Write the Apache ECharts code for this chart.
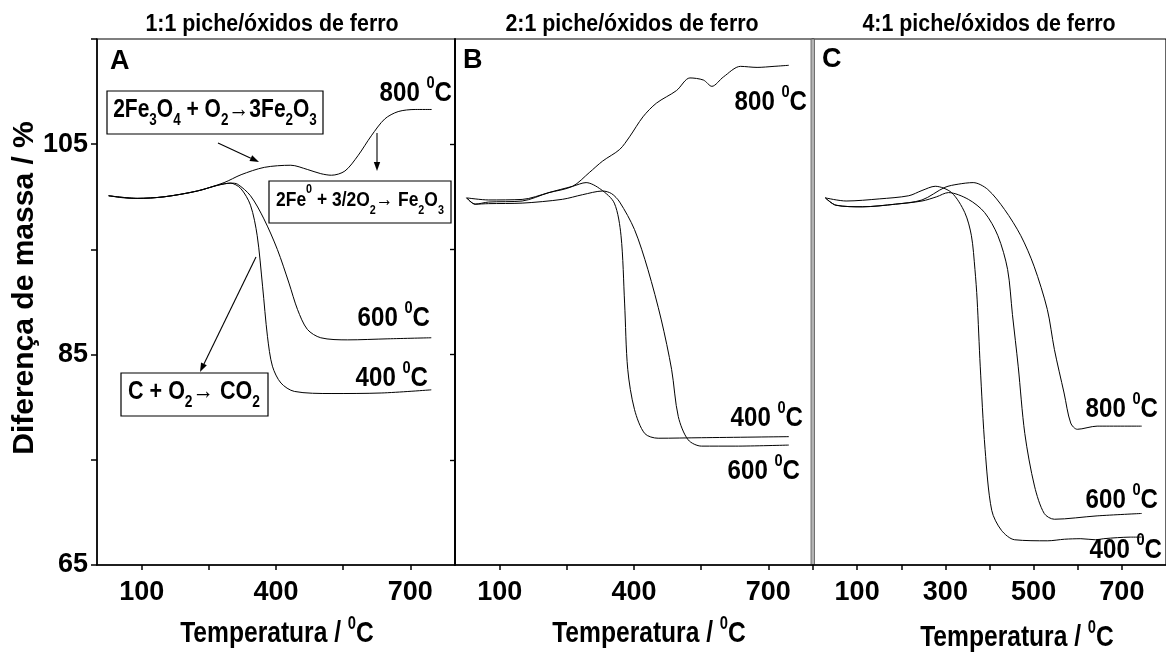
<!DOCTYPE html>
<html>
<head>
<meta charset="utf-8">
<script src="https://cdn.jsdelivr.net/npm/echarts@6/dist/echarts.min.js"></script>
<style>html,body{margin:0;padding:0;background:#fff}#c{width:1166px;height:653px}</style>
</head>
<body>
<div id="c"></div>
<script>
// ---------- data (temperature °C, mass %) ----------
const a800 = [[26,100.1],[60,99.9],[90,99.85],[150,100.0],[224,100.55],[284,101.35],[322,102.1],[374,102.8],[433,103.0],[470,102.6],[500,102.2],[524,102.05],[554,102.45],[583,103.9],[613,105.8],[643,107.4],[673,108.1],[711,108.3],[748,108.3]];
const a600 = [[26,100.1],[90,99.85],[150,100.0],[224,100.55],[270,101.1],[300,101.3],[314,101.2],[343,100.1],[373,97.9],[403,95.0],[429,91.8],[448,89.3],[470,87.4],[500,86.6],[560,86.4],[650,86.5],[747,86.6]];
const a400 = [[26,100.1],[90,99.85],[150,100.0],[224,100.55],[270,101.1],[298,101.3],[321,100.8],[343,99.2],[358,96.3],[370,91.5],[381,86.7],[392,83.9],[411,82.3],[441,81.5],[523,81.3],[635,81.35],[747,81.65]];

const b800 = [[26,99.9],[75,99.7],[150,99.75],[210,100.4],[263,101.0],[300,102.3],[330,103.4],[368,104.5],[390,105.7],[420,107.6],[450,108.9],[495,110.1],[525,111.3],[555,111.1],[574,110.5],[600,111.4],[638,112.4],[675,112.3],[713,112.4],[746,112.5]];
const b400 = [[26,99.9],[45,99.3],[75,99.5],[150,99.6],[210,100.4],[263,101.0],[293,101.35],[326,100.7],[356,99.4],[371,96.3],[379,89.9],[386,83.6],[401,79.8],[424,77.5],[454,77.05],[551,77.1],[746,77.2]];
const b600 = [[26,99.9],[45,99.3],[75,99.35],[150,99.4],[240,99.76],[285,100.2],[330,100.55],[350,100.3],[368,99.5],[401,96.9],[431,93.1],[461,88.3],[484,83.6],[499,79.1],[521,76.9],[551,76.3],[626,76.3],[746,76.4]];

const c400 = [[28,99.9],[75,99.6],[150,99.8],[217,100.1],[247,100.6],[277,101.0],[314,100.4],[344,98.5],[359,96.3],[367,93.1],[372,90.2],[379,83.9],[390,76.0],[405,70.2],[427,68.3],[457,67.4],[532,67.3],[570,67.45],[607,67.5],[640,67.4],[659,67.5],[690,67.6],[719,67.65],[745,67.65]];
const c600 = [[28,99.9],[52,99.2],[112,99.05],[187,99.3],[247,99.6],[280,100.0],[307,100.4],[352,99.76],[389,98.5],[419,96.3],[441,93.1],[452,88.8],[465,83.9],[480,77.5],[502,72.5],[524,69.9],[547,69.35],[644,69.67],[745,69.9]];
const c800 = [[28,99.9],[52,99.2],[112,99.05],[187,99.3],[247,99.7],[299,100.9],[329,101.2],[363,101.35],[396,100.7],[434,98.8],[471,96.3],[501,93.4],[531,89.3],[547,85.5],[569,81.35],[584,78.5],[599,77.9],[644,78.2],[745,78.2]];

// ---------- tick values / labels ----------
const xTicksAB = [100,250,400,550,700];
const xLabelsAB = [100,400,700];
const xTicksC = [0,100,200,300,400,500,600,700];
const xLabelsC = [100,300,500,700];
const yTicks = [65,75,85,95,105,115];
const yLabels = [65,85,105];
const yTicksRight = [75,85,95,105];
const panelTitles = ['1:1 piche/óxidos de ferro','2:1 piche/óxidos de ferro','4:1 piche/óxidos de ferro'];
const panelLetters = ['A','B','C'];

const FF = '"Liberation Sans", Arial, sans-serif';

const chart = echarts.init(document.getElementById('c'), null, {renderer:'canvas'});

const grids = [
  {left:97, top:39, width:358, height:526},
  {left:455, top:39, width:358, height:526},
  {left:813, top:39, width:357, height:526}
].map(g => Object.assign(g, {show:true, borderColor:'#000', borderWidth:1.2, backgroundColor:'transparent'}));

function xAx(gi, ticks, labels){
  return {gridIndex:gi, type:'value', min:0, max:800,
    axisLine:{show:true, onZero:false, lineStyle:{color:'#000', width:1.6}},
    axisTick:{show:true, customValues:ticks, length:5, lineStyle:{color:'#000', width:1.5}},
    axisLabel:{customValues:labels, fontSize:27, fontWeight:'bold', color:'#000', fontFamily:FF, margin:14},
    splitLine:{show:false}};
}
function yAx(gi, opts){
  return Object.assign({gridIndex:gi, type:'value', min:65, max:115,
    axisLine:{show:true, onZero:false, lineStyle:{color:'#000', width:1.5}},
    axisTick:{show:false}, axisLabel:{show:false}, splitLine:{show:false}}, opts);
}

const yAxes = [
  yAx(0, {axisTick:{show:true, customValues:yTicks, length:6, lineStyle:{color:'#000',width:1.5}},
          axisLabel:{show:true, customValues:yLabels, fontSize:27, fontWeight:'bold', color:'#000', fontFamily:FF, margin:9}}),
  yAx(0, {position:'right', axisTick:{show:true, inside:true, customValues:yTicksRight, length:5, lineStyle:{color:'#000',width:1.2}}}),
  yAx(1, {}),
  yAx(1, {position:'right', axisLine:{show:false}, axisTick:{show:true, inside:true, customValues:yTicksRight, length:5, lineStyle:{color:'#000',width:1.2}}}),
  yAx(2, {axisLine:{show:false}})
];

function ser(data, xi, yi){
  return {type:'line', data:data, xAxisIndex:xi, yAxisIndex:yi, showSymbol:false, symbol:'none',
    smooth:0.3, lineStyle:{color:'#000', width:1}, silent:true, animation:false};
}

// ---------- annotation helpers ----------
const G = [];
function txt(x, y, text, size, opt, sx){
  G.push({type:'text', x:x, y:y, scaleX:sx||1, style:Object.assign({text:text, fill:'#000',
    font:'bold '+size+'px '+FF, align:'center', verticalAlign:'middle'}, opt||{})});
}
const richBase = (size, supSize, lh) => ({
  n:{fontSize:size, fontWeight:'bold', fontFamily:FF, color:'#000', lineHeight:lh, verticalAlign:'middle'},
  sup:{fontSize:supSize, fontWeight:'bold', fontFamily:FF, color:'#000', lineHeight:supSize, verticalAlign:'top'},
  sub:{fontSize:supSize, fontWeight:'bold', fontFamily:FF, color:'#000', lineHeight:supSize, verticalAlign:'bottom'}
});
function rtxt(x, y, text, rich, align, sx){
  G.push({type:'text', x:x, y:y, scaleX:sx||1, style:{text:text, rich:rich, align:align||'center', verticalAlign:'middle'}});
}
function box(x, y, w, h){
  G.push({type:'rect', shape:{x:x, y:y, width:w, height:h}, style:{fill:'#fff', stroke:'#000', lineWidth:1.2}});
}
function arrow(x1, y1, x2, y2){
  const a = Math.atan2(y2-y1, x2-x1), L = 9, W = 3.2;
  const bx = x2 - L*Math.cos(a), by = y2 - L*Math.sin(a);
  G.push({type:'line', shape:{x1:x1, y1:y1, x2:bx, y2:by}, style:{stroke:'#000', lineWidth:1.1}});
  G.push({type:'polygon', shape:{points:[[x2,y2],[bx - W*Math.sin(a), by + W*Math.cos(a)],[bx + W*Math.sin(a), by - W*Math.cos(a)]]}, style:{fill:'#000'}});
}

// separator between B and C
G.push({type:'rect', shape:{x:811, y:39, width:3.5, height:526}, style:{fill:'#b4b4b4', stroke:'#555', lineWidth:0.8}});

// panel titles
txt(272, 25, panelTitles[0], 23, null, 0.93);
txt(632, 25, panelTitles[1], 23, null, 0.93);
txt(989, 25, panelTitles[2], 23, null, 0.93);
// panel letters
txt(110, 62, panelLetters[0], 27, {align:'left'});
txt(463, 61, panelLetters[1], 27, {align:'left'});
txt(822, 60, panelLetters[2], 27, {align:'left'});

// curve labels
const lblRich = richBase(28, 17, 36);
const lab = v => '{n|' + v + ' }{sup|0}{n|C}';
const LS = 0.86;
rtxt(452, 93, lab(800), lblRich, 'right', LS);
rtxt(430, 318, lab(600), lblRich, 'right', LS);
rtxt(428, 378, lab(400), lblRich, 'right', LS);
rtxt(807, 102, lab(800), lblRich, 'right', LS);
rtxt(803, 418, lab(400), lblRich, 'right', LS);
rtxt(800, 471, lab(600), lblRich, 'right', LS);
rtxt(1158, 409, lab(800), lblRich, 'right', LS);
rtxt(1158, 500, lab(600), lblRich, 'right', LS);
rtxt(1162, 550, lab(400), lblRich, 'right', LS);

// reaction boxes
box(107, 91, 216, 43);
rtxt(215, 110, '{n|2Fe}{sub|3}{n|O}{sub|4}{n| + O}{sub|2}{n|→3Fe}{sub|2}{n|O}{sub|3}', richBase(25, 16, 38), 'center', 0.84);
box(269, 181, 182, 42);
rtxt(360, 200, '{n|2Fe}{sup|0}{n| + 3/2O}{sub|2}{n|→ Fe}{sub|2}{n|O}{sub|3}', richBase(21, 13, 34), 'center', 0.83);
box(121, 373, 147, 43);
rtxt(194, 392, '{n|C + O}{sub|2}{n|→ CO}{sub|2}', richBase(25, 16, 38), 'center', 0.86);

arrow(218, 143, 259, 162);
arrow(377, 133, 377, 171);
arrow(256, 257, 200, 372);

// axis titles
const axRich = {
  n:{fontSize:30, fontWeight:'bold', fontFamily:FF, color:'#000', lineHeight:38, verticalAlign:'middle'},
  sup:{fontSize:18, fontWeight:'bold', fontFamily:FF, color:'#000', lineHeight:18, verticalAlign:'top'}
};
const axName = '{n|Temperatura / }{sup|0}{n|C}';
rtxt(277, 634, axName, axRich, 'center', 0.82);
rtxt(649, 634, axName, axRich, 'center', 0.82);
rtxt(1017, 638, axName, axRich, 'center', 0.82);
G.push({type:'text', x:25, y:288, rotation:Math.PI/2, style:{text:'Diferença de massa / %', fill:'#000', font:'bold 30px '+FF, align:'center', verticalAlign:'middle'}});

chart.setOption({
  animation:false,
  backgroundColor:'#fff',
  grid: grids,
  xAxis: [xAx(0, xTicksAB, xLabelsAB), xAx(1, xTicksAB, xLabelsAB), xAx(2, xTicksC, xLabelsC)],
  yAxis: yAxes,
  series: [
    ser(a800,0,0), ser(a600,0,0), ser(a400,0,0),
    ser(b800,1,2), ser(b400,1,2), ser(b600,1,2),
    ser(c400,2,4), ser(c600,2,4), ser(c800,2,4)
  ],
  graphic: G
});
</script>
</body>
</html>
